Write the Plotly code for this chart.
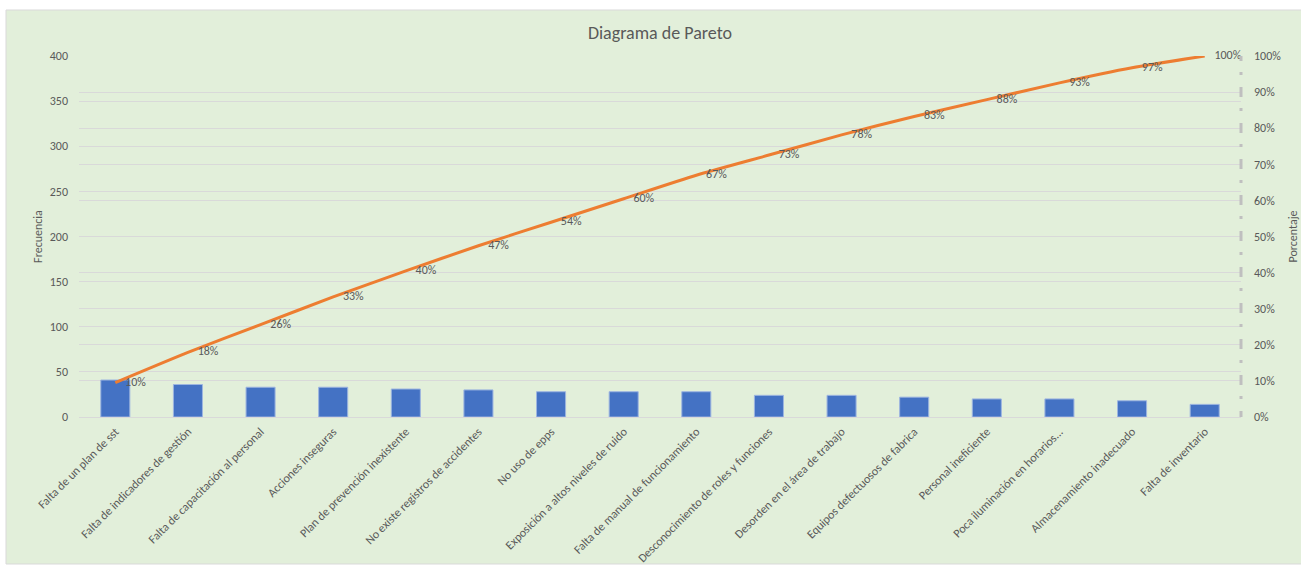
import plotly.graph_objects as go

categories = [
    "Falta de un plan de sst",
    "Falta de indicadores de gestión",
    "Falta de capacitación al personal",
    "Acciones inseguras",
    "Plan de prevención inexistente",
    "No existe registros de accidentes",
    "No uso de epps",
    "Exposición a altos niveles de ruido",
    "Falta de manual de funcionamiento",
    "Desconocimiento de roles y funciones",
    "Desorden en el área de trabajo",
    "Equipos defectuosos de fabrica",
    "Personal ineficiente",
    "Poca iluminación en horarios...",
    "Almacenamiento inadecuado",
    "Falta de inventario",
]
frecuencia = [41, 36, 33, 33, 31, 30, 28, 28, 28, 24, 24, 22, 20, 20, 18, 14]

left_ticks = [0, 50, 100, 150, 200, 250, 300, 350, 400]
right_ticks = [0, 0.1, 0.2, 0.3, 0.4, 0.5, 0.6, 0.7, 0.8, 0.9, 1.0]

total = sum(frecuencia)
acum = []
s = 0
for v in frecuencia:
    s += v
    acum.append(s / total)
pct_labels = [f"{round(p * 100):.0f}%" for p in acum]

FONT = "Carlito, Calibri, Lato, sans-serif"
GREY = "#595959"
GRID = "#D9D9D9"

# pixel geometry of plot area
W, H = 1301, 565
L, R, T, B = 79, 60, 56, 148
pw = W - L - R
ph = H - T - B


def px2x(px):
    return (px - L) / pw


def py2y(py):
    return (H - B - py) / ph


fig = go.Figure()

fig.add_trace(go.Bar(
    x=categories, y=frecuencia, name="Frecuencia",
    marker=dict(color="#4472C4", line=dict(color="#9DB5E0", width=1)),
    yaxis="y",
))

fig.add_trace(go.Scatter(
    x=categories, y=acum, name="Porcentaje", mode="lines",
    line=dict(color="#ED7D31", width=3, shape="spline", smoothing=0.6),
    yaxis="y2", cliponaxis=False,
))

fig.add_trace(go.Scatter(
    x=categories, y=acum, mode="markers+text", text=pct_labels,
    textposition="middle right",
    textfont=dict(family=FONT, size=12, color=GREY),
    marker=dict(size=14, color="rgba(0,0,0,0)"),
    yaxis="y2", showlegend=False, hoverinfo="skip", cliponaxis=False,
))

fig.add_shape(
    type="rect", xref="paper", yref="paper",
    x0=px2x(6), x1=px2x(1302), y0=py2y(564), y1=py2y(10),
    fillcolor="#E2EFDA", line=dict(color="#D9D9D9", width=1), layer="below",
)
fig.add_shape(
    type="line", xref="paper", yref="paper",
    x0=1, x1=1, y0=1, y1=0,
    line=dict(color="#BFBFBF", width=3, dash="5px,11px,3px,12px,5px,0px"),
    layer="above",
)

fig.update_layout(
    width=W, height=H,
    margin=dict(l=L, r=R, t=T, b=B, autoexpand=False),
    paper_bgcolor="white",
    plot_bgcolor="rgba(0,0,0,0)",
    showlegend=False,
    bargap=0.6,
    font=dict(family=FONT, color=GREY, size=12),
    title=dict(text="Diagrama de Pareto", x=0.5, xref="paper", xanchor="center",
               y=1 - 33 / H, yref="container", yanchor="middle",
               font=dict(family=FONT, size=18, color=GREY)),
    xaxis=dict(
        range=[-0.5, len(categories) - 0.5],
        tickangle=-45, showgrid=False, showline=True, linecolor=GRID, linewidth=1,
        tickfont=dict(family=FONT, size=12, color=GREY), automargin=False,
        ticks="", ticklabelstandoff=2,
    ),
    yaxis=dict(
        range=[0, 400], tickvals=left_ticks, showgrid=True, gridcolor=GRID, gridwidth=1,
        zeroline=False, showline=False, ticks="", ticklabelstandoff=10,
        tickfont=dict(family=FONT, size=12, color=GREY), automargin=False,
        title=dict(text="Frecuencia", font=dict(family=FONT, size=12, color=GREY), standoff=4),
    ),
    yaxis2=dict(
        range=[0, 1], tickvals=right_ticks, tickformat=".0%", overlaying="y", side="right",
        showgrid=True, gridcolor=GRID, gridwidth=1, zeroline=False, showline=False,
        ticks="", ticklabelstandoff=12, automargin=False,
        tickfont=dict(family=FONT, size=12, color=GREY),
        title=dict(text="Porcentaje", font=dict(family=FONT, size=12, color=GREY), standoff=8),
    ),
)

fig.write_html("out.html")
